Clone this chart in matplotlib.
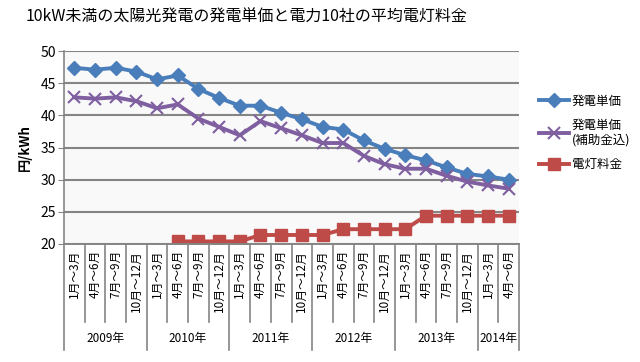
import matplotlib
matplotlib.use('Agg')
import matplotlib.pyplot as plt
import numpy as np

plt.rcParams['font.family'] = ['Noto Sans CJK JP', 'DejaVu Sans']

# quarters / years
quarters = ['1月～3月', '4月～6月', '7月～9月', '10月～12月'] * 5 + ['1月～3月', '4月～6月']
years = ['2009年', '2010年', '2011年', '2012年', '2013年', '2014年']
year_counts = [4, 4, 4, 4, 4, 2]

# 発電単価
cost = [47.4, 47.1, 47.4, 46.8, 45.6, 46.2, 44.1, 42.7, 41.5, 41.5, 40.4,
        39.4, 38.2, 37.8, 36.1, 34.8, 33.8, 33.0, 31.9, 30.9, 30.5, 30.0]
# 発電単価(補助金込)
cost_sub = [42.8, 42.6, 42.8, 42.2, 41.1, 41.7, 39.5, 38.2, 36.9, 39.1, 38.0,
            36.9, 35.7, 35.7, 33.7, 32.4, 31.7, 31.7, 30.6, 29.7, 29.1, 28.6]
# 電灯料金 (from 2010 4-6月)
tariff = [None] * 5 + [20.4, 20.4, 20.4, 20.4, 21.4, 21.4, 21.4, 21.4,
                       22.3, 22.3, 22.3, 22.3, 24.4, 24.4, 24.4, 24.4, 24.4]

x = np.arange(len(quarters))
tariff_arr = np.array([np.nan if v is None else v for v in tariff])

fig = plt.figure(figsize=(6.4, 3.62), dpi=100)
ax = fig.add_axes([0.1, 0.326, 0.711, 0.533])
ax.set_facecolor('#f9f9f9')

ax.plot(x, cost, color='#4a7ebb', lw=2.8, marker='D', ms=7, label='発電単価')
ax.plot(x, cost_sub, color='#7f5fa0', lw=2.8, marker='x', ms=8, mew=1.5,
        label='発電単価\n(補助金込)')
ax.plot(x, tariff_arr, color='#be4b48', lw=2.8, marker='s', ms=8, label='電灯料金')

ax.set_xlim(-0.5, len(x) - 0.5)
ax.set_ylim(20, 50)
ax.set_yticks(np.arange(20, 51, 5))
ax.yaxis.grid(True, color='#858585', lw=1.5)
ax.set_axisbelow(True)
for s in ['top', 'right', 'bottom']:
    ax.spines[s].set_visible(False)
ax.spines['left'].set_color('#858585')
ax.spines['left'].set_linewidth(1.2)
ax.tick_params(axis='y', length=4, color='#858585', labelsize=10, pad=2)
ax.set_xticks([])
ax.set_ylabel('円/kWh', fontsize=9.5, fontweight='bold', labelpad=6)

# two-level category axis
trans = ax.get_xaxis_transform()
ax.plot([-0.5, len(x) - 0.5], [0, 0], transform=trans, color='#858585', lw=1.4, clip_on=False)
for i, q in enumerate(quarters):
    ax.text(i, -0.03, q, transform=trans, rotation=90, ha='center', va='top',
            fontsize=8.5)
year_edges = np.concatenate([[0], np.cumsum(year_counts)])
for i in range(len(quarters) + 1):
    bottom = -0.55 if i in year_edges else -0.405
    ax.plot([i - 0.5, i - 0.5], [0, bottom], transform=trans, color='#858585',
            lw=1.2, clip_on=False)
for k, yr in enumerate(years):
    mid = (year_edges[k] + year_edges[k + 1]) / 2 - 0.5
    ax.text(mid, -0.49, yr, transform=trans, ha='center', va='center', fontsize=8.5)

leg = fig.legend(loc='upper left', bbox_to_anchor=(0.825, 0.77), frameon=False,
                 fontsize=9, handlelength=2.4, labelspacing=0.9, handletextpad=0.2)

fig.text(0.04, 0.952, '10kW未満の太陽光発電の発電単価と電力10社の平均電灯料金',
         fontsize=11.5, ha='left', va='center')

fig.savefig('out.png', dpi=100)
